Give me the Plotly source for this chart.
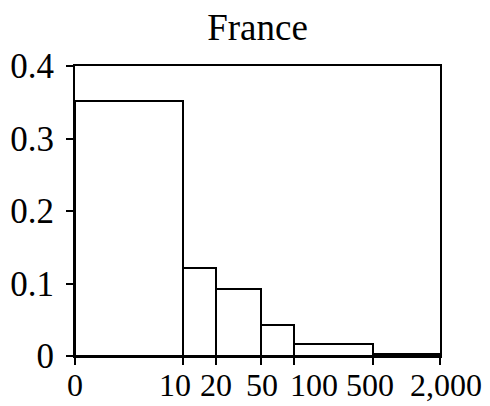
import numpy as np
import plotly.graph_objects as go

# Bin edges (raw units) and bar heights
bin_edges = [0, 10, 20, 50, 100, 500, 2000]
heights = [0.352, 0.121, 0.093, 0.043, 0.016, 0.003]
tick_labels = ["0", "10", "20", "50", "100", "500", "2,000"]
y_ticks = [0, 0.1, 0.2, 0.3, 0.4]
y_tick_labels = ["0", "0.1", "0.2", "0.3", "0.4"]
title_text = "France"

# Horizontal nudges (px) for crowded edge labels
label_nudge = [0, -8, 0, 1, 20, -3, 6]

# Compressed horizontal scale: asinh(x / s)
SCALE = 2.2


def squash(v):
    return np.arcsinh(np.asarray(v, dtype=float) / SCALE)


pos = squash(bin_edges)
left, right = pos[:-1], pos[1:]
centers = (left + right) / 2
widths = right - left

FONT = "'Liberation Serif', 'Times New Roman', Times, serif"

fig = go.Figure(
    go.Bar(
        x=centers,
        y=heights,
        width=widths,
        marker=dict(color="white", line=dict(color="black", width=2)),
        hoverinfo="skip",
    )
)

for p, txt, dx in zip(pos, tick_labels, label_nudge):
    fig.add_annotation(
        x=float(p),
        xref="x",
        y=0,
        yref="paper",
        text=txt,
        showarrow=False,
        xanchor="center",
        yanchor="middle",
        xshift=dx,
        yshift=-29,
        font=dict(family=FONT, size=32, color="black"),
    )

fig.update_layout(
    width=490,
    height=406,
    margin=dict(l=75, r=50, t=66, b=50, autoexpand=False),
    paper_bgcolor="white",
    plot_bgcolor="white",
    showlegend=False,
    font=dict(family=FONT, size=34, color="black"),
    title=dict(
        text=title_text,
        x=0.5,
        xref="paper",
        xanchor="center",
        y=1 - 27 / 406,
        yref="container",
        yanchor="middle",
        font=dict(family=FONT, size=37, color="black"),
    ),
    bargap=0,
)

fig.update_xaxes(
    range=[0, float(pos[-1])],
    tickmode="array",
    tickvals=pos,
    ticktext=[""] * len(pos),
    automargin=False,
    showline=True,
    linecolor="black",
    linewidth=2,
    mirror=True,
    ticks="outside",
    ticklen=7,
    tickwidth=2,
    tickcolor="black",
    showgrid=False,
    zeroline=False,
)

fig.update_yaxes(
    range=[0, 0.4],
    tickmode="array",
    tickvals=y_ticks,
    ticktext=y_tick_labels,
    automargin=False,
    showline=True,
    linecolor="black",
    linewidth=2,
    mirror=True,
    ticks="outside",
    ticklen=7,
    tickwidth=2,
    tickcolor="black",
    showgrid=False,
    zeroline=False,
    ticklabelstandoff=5,
    tickfont=dict(family=FONT, size=35, color="black"),
)

fig.write_html("out.html")
